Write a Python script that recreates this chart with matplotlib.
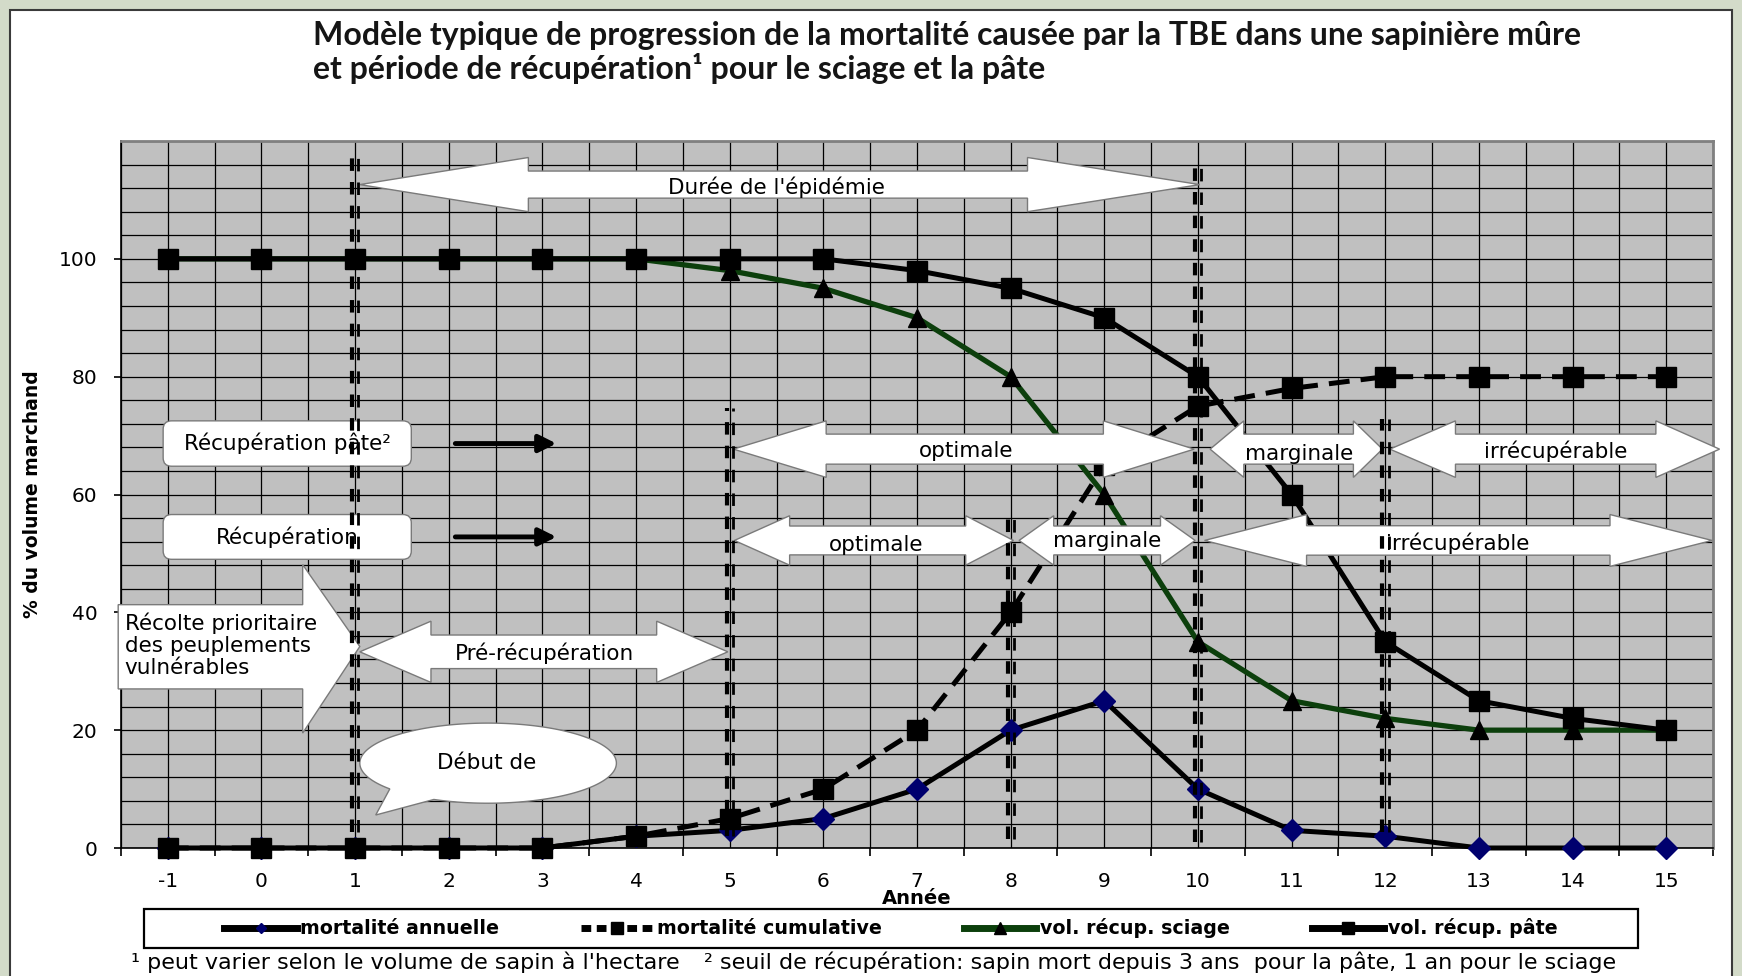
import numpy as np
import matplotlib
matplotlib.use("Agg")
import matplotlib.pyplot as plt
from matplotlib.patches import Polygon, FancyBboxPatch, Rectangle
from matplotlib.lines import Line2D
from matplotlib.ticker import MultipleLocator

plt.rcParams['lines.scale_dashes'] = False
plt.rcParams['font.family'] = ['DejaVu Sans']

# ---------------- data ----------------
years = [-1, 0, 1, 2, 3, 4, 5, 6, 7, 8, 9, 10, 11, 12, 13, 14, 15]
mortalite_annuelle = [0, 0, 0, 0, 0, 2, 3, 5, 10, 20, 25, 10, 3, 2, 0, 0, 0]
mortalite_cumulative = [0, 0, 0, 0, 0, 2, 5, 10, 20, 40, 65, 75, 78, 80, 80, 80, 80]
vol_recup_sciage = [100, 100, 100, 100, 100, 100, 98, 95, 90, 80, 60, 35, 25, 22, 20, 20, 20]
vol_recup_pate = [100, 100, 100, 100, 100, 100, 100, 100, 98, 95, 90, 80, 60, 35, 25, 22, 20]
series_labels = ["mortalité annuelle", "mortalité cumulative",
                 "vol. récup. sciage", "vol. récup. pâte"]
y_ticks = [0, 20, 40, 60, 80, 100]

title_1 = "Modèle typique de progression de la mortalité causée par la TBE dans une sapinière mûre"
title_2 = "et période de récupération¹ pour le sciage et la pâte"
x_label = "Année"
y_label = "% du volume marchand"
note_1 = "¹ peut varier selon le volume de sapin à l'hectare"
note_2 = "² seuil de récupération: sapin mort depuis 3 ans  pour la pâte, 1 an pour le sciage"

# annotation geometry (x in years, y in %)
# vertical double dashed markers: (x, y_start, y_end)
vlines = [(1, 2.7, 117.6), (5, 2.0, 74.7), (8, 1.5, 56.7), (10, 1.0, 116.3), (12, 2.8, 72.8)]
# double arrows: (x_left_tip, x_right_tip, y_center, head_len_left, head_len_right, head_half_h, shaft_half_h, label, label_x, label_y)
double_arrows = [
    (1.05, 10.02, 112.6, 1.8, 1.84, 4.6, 2.3, "Durée de l'épidémie", 5.5, 112.2),
    (1.05, 4.98, 33.3, 0.76, 0.76, 5.2, 2.85, "Pré-récupération", 3.02, 33.1),
    (5.04, 9.96, 67.7, 0.99, 0.97, 4.8, 2.55, "optimale", 7.52, 67.4),
    (10.13, 11.97, 67.7, 0.36, 0.31, 4.8, 2.55, "marginale", 11.08, 66.8),
    (12.05, 15.57, 67.7, 0.70, 0.68, 4.8, 2.55, "irrécupérable", 13.82, 67.4),
    (5.05, 8.03, 52.2, 0.59, 0.51, 4.2, 2.45, "optimale", 6.56, 51.5),
    (8.09, 9.97, 52.2, 0.37, 0.37, 4.2, 2.45, "marginale", 9.03, 52.1),
    (10.07, 15.49, 52.2, 1.09, 1.09, 4.4, 2.5, "irrécupérable", 12.77, 51.8),
]
# rounded label boxes: (x0, x1, y0, y1, label, arrow_x0, arrow_x1)
label_boxes = [(-1.05, 1.6, 64.8, 72.5, "Récupération pâte²", 2.07, 3.15),
               (-1.05, 1.6, 49.0, 56.6, "Récupération", 2.07, 3.15)]

# ---------------- figure ----------------
W, H = 1742, 976
fig = plt.figure(figsize=(W / 100, H / 100), dpi=100, facecolor='#d3dbc9')
fig.patches.append(Rectangle((10 / W, -0.02), 1722 / W, 1.02 - 10 / H, transform=fig.transFigure,
                             facecolor='white', edgecolor='#3a3a3a', lw=1.5, zorder=-10))

ax_l, ax_r, ax_t, ax_b = 121, 1713, 141, 848
ax = fig.add_axes([ax_l / W, 1 - ax_b / H, (ax_r - ax_l) / W, (ax_b - ax_t) / H])
ax.set_zorder(1)
ax.set_facecolor('#c0c0c0')
ax.set_xlim(-1.5, 15.5)
ax.set_ylim(0, 120)
ax.set_axisbelow(True)

# ticks & grid
ax.set_xticks(years)
ax.set_xticklabels([str(y) for y in years])
ax.xaxis.set_minor_locator(MultipleLocator(0.5))
ax.set_yticks(y_ticks)
ax.set_yticklabels([str(v) for v in y_ticks])
ax.yaxis.set_minor_locator(MultipleLocator(4))
ax.tick_params(axis='x', which='major', length=0, pad=17, labelsize=14.5)
ax.tick_params(axis='x', which='minor', length=6, width=1.2, direction='out', color='black')
ax.tick_params(axis='y', which='major', length=5, width=1.2, pad=12, labelsize=14.5)
ax.tick_params(axis='y', which='minor', length=0)
ax.grid(True, which='both', color='black', lw=0.9)
for s in ['left', 'bottom']:
    ax.spines[s].set_color('black')
    ax.spines[s].set_linewidth(1.2)
for s in ['top', 'right']:
    ax.spines[s].set_color('#808080')
    ax.spines[s].set_linewidth(2)

# series
navy = '#00006e'
green = '#0c3f0c'
ax.plot(years, mortalite_annuelle, color='black', lw=3.6, marker='D', ms=11,
        mfc=navy, mec=navy, zorder=3, clip_on=False)
ax.plot(years, mortalite_cumulative, color='black', lw=3.6, ls=(0, (15, 8)), marker='s', ms=15,
        mfc='black', mec='black', zorder=3.1, clip_on=False)
ax.plot(years, vol_recup_sciage, color=green, lw=3.8, marker='^', ms=13,
        mfc='black', mec='black', zorder=3.2, clip_on=False)
ax.plot(years, vol_recup_pate, color='black', lw=3.6, marker='s', ms=15,
        mfc='black', mec='black', zorder=3.3, clip_on=False)

# aspect ratio (px per x unit / px per y unit)
px_per_x = (ax_r - ax_l) / 17.0
px_per_y = (ax_b - ax_t) / 120.0
aspect = px_per_x / px_per_y

ann_fs = 15.5
arrow_kw = dict(facecolor='white', edgecolor='#7a7a7a', lw=1.0, zorder=4, clip_on=False)

# double arrows
for (x0, x1, yc, hl, hr, hh, sh, lab, lx, ly) in double_arrows:
    verts = [(x0, yc), (x0 + hl, yc + hh), (x0 + hl, yc + sh), (x1 - hr, yc + sh),
             (x1 - hr, yc + hh), (x1, yc), (x1 - hr, yc - hh), (x1 - hr, yc - sh),
             (x0 + hl, yc - sh), (x0 + hl, yc - hh)]
    ax.add_patch(Polygon(verts, closed=True, **arrow_kw))
    ax.text(lx, ly, lab, ha='center', va='center', fontsize=ann_fs, zorder=6)

# big right arrow "Récolte prioritaire"
rec_verts = [(-1.53, 41.3), (0.44, 41.3), (0.44, 48.1), (1.05, 34.2), (0.44, 19.5),
             (0.44, 27.0), (-1.53, 27.0)]
ax.add_patch(Polygon(rec_verts, closed=True, **arrow_kw))
ax.text(-1.46, 34.4, "Récolte prioritaire\ndes peuplements\nvulnérables", ha='left', va='center',
        fontsize=ann_fs, linespacing=1.12, zorder=6)

# rounded boxes + black arrows
for (x0, x1, y0, y1, lab, ax0, ax1) in label_boxes:
    ax.add_patch(FancyBboxPatch((x0, y0), x1 - x0, y1 - y0,
                                boxstyle='round,pad=0,rounding_size=0.09',
                                mutation_aspect=aspect, facecolor='white',
                                edgecolor='#7a7a7a', lw=1.0, zorder=4))
    yc = (y0 + y1) / 2
    ax.text((x0 + x1) / 2, yc, lab, ha='center', va='center', fontsize=ann_fs, zorder=6)
    ax.annotate('', xy=(ax1, yc), xytext=(ax0, yc),
                arrowprops=dict(arrowstyle='-|>', color='black', lw=3.5,
                                mutation_scale=26, shrinkA=0, shrinkB=0), zorder=6)

# callout "Début de"
cx, cy, a, b = 2.42, 14.4, 1.37, 6.8
t = np.radians(np.linspace(245, 580, 200))
callout = list(zip(cx + a * np.cos(t), cy + b * np.sin(t))) + [(1.22, 5.6)]
ax.add_patch(Polygon(callout, closed=True, **arrow_kw))
ax.text(2.40, 14.4, "Début de", ha='center', va='center', fontsize=ann_fs, zorder=6)

# vertical double dashed lines
for (xv, y0, y1) in vlines:
    ax.plot([xv - 0.03, xv - 0.03], [y0, y1], color='black', lw=3.0, ls=(0, (9, 8)),
            dash_capstyle='butt', zorder=5)
    ax.plot([xv + 0.035, xv + 0.035], [y0, y1], color='black', lw=2.0, ls=(0, (9, 8)),
            dash_capstyle='butt', zorder=5)

# axis labels
ax.set_xlabel(x_label, fontsize=14, fontweight='bold')
ax.xaxis.set_label_coords(0.5, (ax_b - 899) / (ax_b - ax_t))
ax.xaxis.label.set_va('center')
ax.set_ylabel(y_label, fontsize=13.5, fontweight='bold')
ax.yaxis.set_label_coords((33 - ax_l) / (ax_r - ax_l), 0.5)
ax.yaxis.label.set_va('center')

# titles
fig.text(313 / W, 1 - 35 / H, title_1, family=['Lato', 'DejaVu Sans'], fontweight='bold',
         fontsize=23, ha='left', va='center', color='#151515')
fig.text(313 / W, 1 - 69 / H, title_2, family=['Lato', 'DejaVu Sans'], fontweight='bold',
         fontsize=23, ha='left', va='center', color='#151515')

# legend with frame
fig.patches.append(Rectangle((144 / W, 1 - 948 / H), (1638 - 144) / W, 39 / H,
                             transform=fig.transFigure, facecolor='white',
                             edgecolor='black', lw=1.6, zorder=1))
handles = [
    Line2D([], [], color='black', lw=5, marker='D', ms=5, mfc=navy, mec=navy),
    Line2D([], [], color='black', lw=5, ls=(0, (7, 4)), marker='s', ms=9, mfc='black', mec='black'),
    Line2D([], [], color=green, lw=5, marker='^', ms=8, mfc='black', mec='black'),
    Line2D([], [], color='black', lw=5, marker='s', ms=8, mfc='black', mec='black'),
]
leg = fig.legend(handles, series_labels, loc='center', bbox_to_anchor=(891 / W, 1 - 928.5 / H),
                 ncol=4, frameon=False, prop={'weight': 'bold', 'size': 13.7},
                 handlelength=3.8, handletextpad=0.2, columnspacing=4.3, borderpad=0.1)
leg.set_zorder(2)

# footnotes
fig.text(131 / W, 1 - 962 / H, note_1, fontsize=16, ha='left', va='center')
fig.text(704 / W, 1 - 962 / H, note_2, fontsize=16, ha='left', va='center')

fig.savefig('out.png', dpi=100, facecolor=fig.get_facecolor())
